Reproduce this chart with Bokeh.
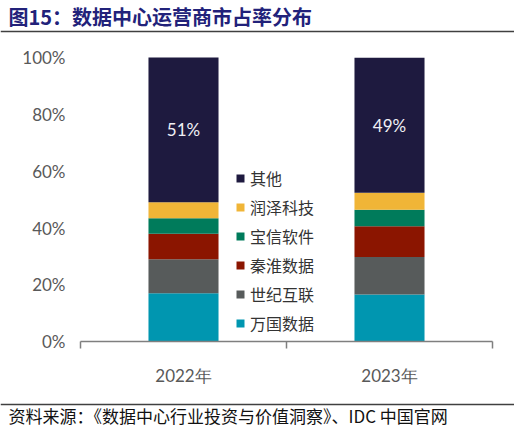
from bokeh.plotting import figure
from bokeh.models import (ColumnDataSource, FixedTicker, NumeralTickFormatter, Legend,
                          LegendItem, Label, Span, Range1d, LinearAxis)
from bokeh.embed import file_html
from bokeh.resources import INLINE
from bokeh.core.properties import value

# ---------------- data ----------------
title_text = "图15：数据中心运营商市占率分布"
source_text = "资料来源：《数据中心行业投资与价值洞察》、IDC 中国官网"
years = ["2022年", "2023年"]
companies = ["万国数据", "世纪互联", "秦淮数据", "宝信软件", "润泽科技", "其他"]
colors = ["#0096b0", "#575b5b", "#8b1500", "#007b5b", "#f0b537", "#1e1a3f"]
share_wanguo = [17.0, 16.6]
share_shiji = [12.0, 13.2]
share_qinhuai = [9.0, 10.8]
share_baoxin = [5.4, 5.8]
share_runze = [5.7, 6.0]
share_other = [51.0, 47.6]
other_labels = ["51%", "49%"]
y_ticks = [0, 20, 40, 60, 80, 100]

series = [share_wanguo, share_shiji, share_qinhuai, share_baoxin, share_runze, share_other]

# ---------------- layout constants (canvas pixels) ----------------
W, H = 514, 428
AX_L, AX_R = 80, 492          # x extent of the category axis
Y0_PX, Y100_PX = 341, 57.3    # pixel rows of 0% and 100%
NX = len(years)
PXX = (AX_R - AX_L) / NX
PXY = Y0_PX - Y100_PX
FONT = "Lato"
CJK = "Noto Sans CJK SC"


def cx(px):  # canvas pixel (from left) -> x data
    return (px - AX_L) / PXX


def cy(py):  # canvas pixel (from top) -> y data
    return (Y0_PX - py) / PXY


# ---------------- chart ----------------
x_pos = [i + 0.5 for i in range(NX)]
keys = ["s%d" % i for i in range(len(series))]
data = {"x": x_pos}
for k, s in zip(keys, series):
    data[k] = [v / 100.0 for v in s]
src = ColumnDataSource(data)

p = figure(width=W, height=H, x_range=Range1d(cx(0), cx(W)), y_range=Range1d(cy(H), cy(0)),
           toolbar_location=None, output_backend="svg", min_border=0,
           x_axis_type=None, y_axis_type=None, outline_line_color=None)
p.title.visible = False
renderers = p.vbar_stack(keys, x="x", width=0.34, fill_color=colors, line_color=None, source=src)

below = [sum(s[j] for s in series[:-1]) for j in range(NX)]
lbl_src = ColumnDataSource(dict(x=x_pos,
                                y=[(b + o / 2.0) / 100.0 for b, o in zip(below, share_other)],
                                t=other_labels))
p.text(x="x", y="y", text="t", source=lbl_src, text_align="center", text_baseline="middle",
       text_font=value(FONT), text_font_size=value("17px"), text_color="#f0f0f5")

# x axis (fixed at y = 0, boundary ticks as minor ticks)
xa = LinearAxis(fixed_location=0, bounds=(0, NX))
xa.ticker = FixedTicker(ticks=x_pos, minor_ticks=list(range(NX + 1)))
xa.major_label_overrides = {x: y for x, y in zip(x_pos, years)}
xa.axis_line_color = "#7f7f7f"
xa.axis_line_width = 1.5
xa.major_tick_line_color = None
xa.major_tick_in = 0
xa.major_tick_out = 0
xa.minor_tick_line_color = "#7f7f7f"
xa.minor_tick_line_width = 1.5
xa.minor_tick_in = 0
xa.minor_tick_out = 7
xa.major_label_standoff = 16
xa.major_label_text_font = FONT
xa.major_label_text_font_size = "17px"
xa.major_label_text_color = "#595959"
p.add_layout(xa, "below")

ya = LinearAxis(fixed_location=0, bounds=(0, 1))
ya.ticker = FixedTicker(ticks=[t / 100.0 for t in y_ticks])
ya.formatter = NumeralTickFormatter(format="0%")
ya.axis_line_color = None
ya.major_tick_line_color = None
ya.minor_tick_line_color = None
ya.major_tick_in = 0
ya.major_tick_out = 0
ya.major_label_standoff = 15
ya.major_label_text_font = FONT
ya.major_label_text_font_size = "17px"
ya.major_label_text_color = "#595959"
p.add_layout(ya, "left")

items = [LegendItem(label=companies[i], renderers=[renderers[i]])
         for i in reversed(range(len(companies)))]
legend = Legend(items=items, location=(235, H - Y0_PX + 6), glyph_width=10, glyph_height=10,
                label_standoff=5, spacing=5, padding=0, margin=0,
                border_line_color=None, background_fill_alpha=0,
                label_text_font=CJK, label_text_font_size="16px", label_text_color="#333333")
p.add_layout(legend)

# ---------------- title, rules, source ----------------
p.add_layout(Label(x=cx(8), y=cy(16), text=title_text, text_font=CJK, text_font_style="bold",
                   text_font_size="20px", text_color="#22227a", text_baseline="middle"))
p.add_layout(Span(location=cy(31), dimension="width", line_color="#404040", line_width=1.5))
p.add_layout(Span(location=cy(404), dimension="width", line_color="#404040", line_width=1.5))
p.add_layout(Label(x=cx(8), y=cy(415), text=source_text, text_font=CJK, text_font_size="17px",
                   text_color="#111111", text_baseline="middle"))

open("out.html", "w").write(file_html(p, INLINE))
